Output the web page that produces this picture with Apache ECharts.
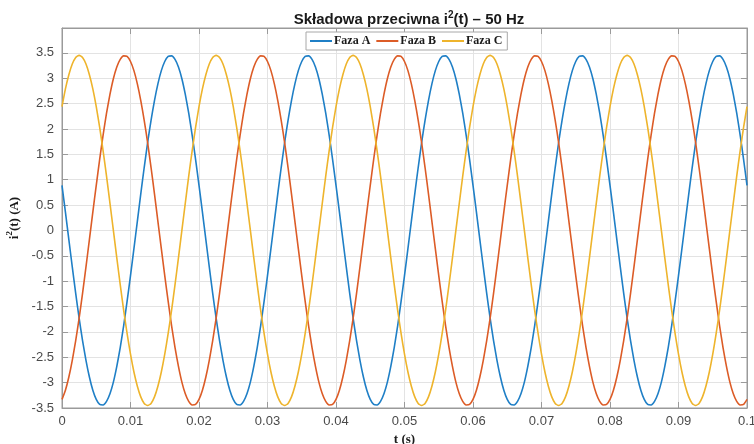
<!DOCTYPE html>
<html>
<head>
<meta charset="utf-8">
<script src="https://cdn.jsdelivr.net/npm/echarts@6/dist/echarts.min.js"></script>
<style>
html,body{margin:0;padding:0;background:#fff;}
#chart{width:754px;height:444px;}
</style>
</head>
<body>
<div id="chart"></div>
<script>
// sampling of the time axis (s)
const tStart = 0;
const tStep = 0.0005;
const xTicks = ['0','0.01','0.02','0.03','0.04','0.05','0.06','0.07','0.08','0.09','0.1'];
const yTicks = ['-3.5','-3','-2.5','-2','-1.5','-1','-0.5','0','0.5','1','1.5','2','2.5','3','3.5'];
const seriesNames = ['Faza A', 'Faza B', 'Faza C'];

const fazaA = [
0.89,0.36,-0.18,-0.72,-1.24,-1.73,-2.17,-2.56,-2.89,-3.15,-3.33,-3.43,-3.44,-3.37,-3.22,-2.99,-2.68,-2.31,-1.88,-1.40,-0.89,-0.36,0.18,0.72,1.24,1.73,2.17,2.56,2.89,3.15,3.33,3.43,3.44,3.37,3.22,2.99,2.68,2.31,1.88,1.40,
0.89,0.36,-0.18,-0.72,-1.24,-1.73,-2.17,-2.56,-2.89,-3.15,-3.33,-3.43,-3.44,-3.37,-3.22,-2.99,-2.68,-2.31,-1.88,-1.40,-0.89,-0.36,0.18,0.72,1.24,1.73,2.17,2.56,2.89,3.15,3.33,3.43,3.44,3.37,3.22,2.99,2.68,2.31,1.88,1.40,
0.89,0.36,-0.18,-0.72,-1.24,-1.73,-2.17,-2.56,-2.89,-3.15,-3.33,-3.43,-3.44,-3.37,-3.22,-2.99,-2.68,-2.31,-1.88,-1.40,-0.89,-0.36,0.18,0.72,1.24,1.73,2.17,2.56,2.89,3.15,3.33,3.43,3.44,3.37,3.22,2.99,2.68,2.31,1.88,1.40,
0.89,0.36,-0.18,-0.72,-1.24,-1.73,-2.17,-2.56,-2.89,-3.15,-3.33,-3.43,-3.44,-3.37,-3.22,-2.99,-2.68,-2.31,-1.88,-1.40,-0.89,-0.36,0.18,0.72,1.24,1.73,2.17,2.56,2.89,3.15,3.33,3.43,3.44,3.37,3.22,2.99,2.68,2.31,1.88,1.40,
0.89,0.36,-0.18,-0.72,-1.24,-1.73,-2.17,-2.56,-2.89,-3.15,-3.33,-3.43,-3.44,-3.37,-3.22,-2.99,-2.68,-2.31,-1.88,-1.40,-0.89,-0.36,0.18,0.72,1.24,1.73,2.17,2.56,2.89,3.15,3.33,3.43,3.44,3.37,3.22,2.99,2.68,2.31,1.88,1.40,
0.89];

const fazaB = [
-3.33,-3.15,-2.89,-2.56,-2.17,-1.73,-1.24,-0.72,-0.18,0.36,0.89,1.40,1.88,2.31,2.68,2.99,3.22,3.37,3.44,3.43,3.33,3.15,2.89,2.56,2.17,1.73,1.24,0.72,0.18,-0.36,-0.89,-1.40,-1.88,-2.31,-2.68,-2.99,-3.22,-3.37,-3.44,-3.43,
-3.33,-3.15,-2.89,-2.56,-2.17,-1.73,-1.24,-0.72,-0.18,0.36,0.89,1.40,1.88,2.31,2.68,2.99,3.22,3.37,3.44,3.43,3.33,3.15,2.89,2.56,2.17,1.73,1.24,0.72,0.18,-0.36,-0.89,-1.40,-1.88,-2.31,-2.68,-2.99,-3.22,-3.37,-3.44,-3.43,
-3.33,-3.15,-2.89,-2.56,-2.17,-1.73,-1.24,-0.72,-0.18,0.36,0.89,1.40,1.88,2.31,2.68,2.99,3.22,3.37,3.44,3.43,3.33,3.15,2.89,2.56,2.17,1.73,1.24,0.72,0.18,-0.36,-0.89,-1.40,-1.88,-2.31,-2.68,-2.99,-3.22,-3.37,-3.44,-3.43,
-3.33,-3.15,-2.89,-2.56,-2.17,-1.73,-1.24,-0.72,-0.18,0.36,0.89,1.40,1.88,2.31,2.68,2.99,3.22,3.37,3.44,3.43,3.33,3.15,2.89,2.56,2.17,1.73,1.24,0.72,0.18,-0.36,-0.89,-1.40,-1.88,-2.31,-2.68,-2.99,-3.22,-3.37,-3.44,-3.43,
-3.33,-3.15,-2.89,-2.56,-2.17,-1.73,-1.24,-0.72,-0.18,0.36,0.89,1.40,1.88,2.31,2.68,2.99,3.22,3.37,3.44,3.43,3.33,3.15,2.89,2.56,2.17,1.73,1.24,0.72,0.18,-0.36,-0.89,-1.40,-1.88,-2.31,-2.68,-2.99,-3.22,-3.37,-3.44,-3.43,
-3.33];

const fazaC = [
2.44,2.79,3.07,3.28,3.41,3.45,3.41,3.28,3.07,2.79,2.44,2.03,1.57,1.07,0.54,0,-0.54,-1.07,-1.57,-2.03,-2.44,-2.79,-3.07,-3.28,-3.41,-3.45,-3.41,-3.28,-3.07,-2.79,-2.44,-2.03,-1.57,-1.07,-0.54,0,0.54,1.07,1.57,2.03,
2.44,2.79,3.07,3.28,3.41,3.45,3.41,3.28,3.07,2.79,2.44,2.03,1.57,1.07,0.54,0,-0.54,-1.07,-1.57,-2.03,-2.44,-2.79,-3.07,-3.28,-3.41,-3.45,-3.41,-3.28,-3.07,-2.79,-2.44,-2.03,-1.57,-1.07,-0.54,0,0.54,1.07,1.57,2.03,
2.44,2.79,3.07,3.28,3.41,3.45,3.41,3.28,3.07,2.79,2.44,2.03,1.57,1.07,0.54,0,-0.54,-1.07,-1.57,-2.03,-2.44,-2.79,-3.07,-3.28,-3.41,-3.45,-3.41,-3.28,-3.07,-2.79,-2.44,-2.03,-1.57,-1.07,-0.54,0,0.54,1.07,1.57,2.03,
2.44,2.79,3.07,3.28,3.41,3.45,3.41,3.28,3.07,2.79,2.44,2.03,1.57,1.07,0.54,0,-0.54,-1.07,-1.57,-2.03,-2.44,-2.79,-3.07,-3.28,-3.41,-3.45,-3.41,-3.28,-3.07,-2.79,-2.44,-2.03,-1.57,-1.07,-0.54,0,0.54,1.07,1.57,2.03,
2.44,2.79,3.07,3.28,3.41,3.45,3.41,3.28,3.07,2.79,2.44,2.03,1.57,1.07,0.54,0,-0.54,-1.07,-1.57,-2.03,-2.44,-2.79,-3.07,-3.28,-3.41,-3.45,-3.41,-3.28,-3.07,-2.79,-2.44,-2.03,-1.57,-1.07,-0.54,0,0.54,1.07,1.57,2.03,
2.44];

const colors = ['#1f7fc6', '#dc5c27', '#eeb42c'];
const toPairs = arr => arr.map((v, i) => [+(tStart + i * tStep).toFixed(4), v]);

const chart = echarts.init(document.getElementById('chart'), null, {renderer: 'canvas'});
const sansFont = '"Liberation Sans", Arial, Helvetica, sans-serif';
const serifFont = '"Liberation Serif", "Times New Roman", serif';
const axisColor = '#9a9a9a';
const labelColor = '#4a4a4a';

chart.setOption({
  animation: false,
  backgroundColor: '#ffffff',
  color: colors,
  title: {
    text: '{t|Składowa przeciwna i}{s|2}{t|(t) – 50 Hz}',
    left: 404, textAlign: 'center', top: 2,
    textStyle: {
      rich: {
        t: {fontFamily: sansFont, fontWeight: 'bold', fontSize: 15, color: '#1a1a1a', verticalAlign: 'bottom', lineHeight: 20},
        s: {fontFamily: sansFont, fontWeight: 'bold', fontSize: 10, color: '#1a1a1a', verticalAlign: 'top', lineHeight: 12, padding: [3,0,0,0]}
      }
    }
  },
  legend: {
    data: seriesNames,
    left: 306, top: 32,
    icon: 'rect',
    itemWidth: 22, itemHeight: 2, itemGap: 6,
    padding: [3, 5, 3, 4],
    borderColor: '#a8a8a8', borderWidth: 1,
    backgroundColor: '#ffffff',
    textStyle: {fontFamily: serifFont, fontWeight: 'bold', fontSize: 12, color: '#1a1a1a', padding: [0,0,0,-3]}
  },
  grid: {left: 62, right: 7, top: 28, bottom: 36, outerBoundsMode: 'none', containLabel: false,
    show: true, borderColor: axisColor, borderWidth: 1, backgroundColor: 'transparent'},
  xAxis: [{
    type: 'value', min: 0, max: 0.1, interval: 0.01,
    position: 'bottom',
    name: 't (s)', nameLocation: 'middle', nameGap: 21,
    nameTextStyle: {fontFamily: serifFont, fontWeight: 'bold', fontSize: 13, color: '#1a1a1a'},
    axisLine: {show: true, onZero: false, lineStyle: {color: axisColor}},
    axisTick: {show: true, inside: true, length: 6, lineStyle: {color: axisColor}},
    axisLabel: {fontFamily: sansFont, fontSize: 13, color: labelColor, margin: 7,
      formatter: v => { const s = xTicks.find(x => Math.abs(parseFloat(x) - v) < 1e-9); return s === undefined ? '' : s; }},
    splitLine: {show: true, lineStyle: {color: '#e3e3e3', width: 1}}
  }, {
    type: 'value', min: 0, max: 0.1, interval: 0.01,
    position: 'top',
    axisLine: {show: true, onZero: false, lineStyle: {color: axisColor}},
    axisTick: {show: true, inside: true, length: 6, lineStyle: {color: axisColor}},
    axisLabel: {show: false},
    splitLine: {show: false}
  }],
  yAxis: [{
    type: 'value', min: -3.5, max: 3.99, interval: 0.5,
    position: 'left',
    name: '{t|i}{s|2}{t|(t) (A)}', nameLocation: 'middle', nameGap: 36, nameRotate: 90,
    nameTextStyle: {
      rich: {
        t: {fontFamily: serifFont, fontWeight: 'bold', fontSize: 13, color: '#1a1a1a', verticalAlign: 'bottom', lineHeight: 16},
        s: {fontFamily: serifFont, fontWeight: 'bold', fontSize: 9, color: '#1a1a1a', verticalAlign: 'top', lineHeight: 10}
      }
    },
    axisLine: {show: true, onZero: false, lineStyle: {color: axisColor}},
    axisTick: {show: true, inside: true, length: 6, lineStyle: {color: axisColor}},
    axisLabel: {fontFamily: sansFont, fontSize: 13, color: labelColor, margin: 8, showMaxLabel: false,
      formatter: v => { const s = yTicks.find(y => Math.abs(parseFloat(y) - v) < 1e-9); return s === undefined ? '' : s; }},
    splitLine: {show: true, lineStyle: {color: '#e3e3e3', width: 1}}
  }, {
    type: 'value', min: -3.5, max: 3.99, interval: 0.5,
    position: 'right',
    axisLine: {show: true, onZero: false, lineStyle: {color: axisColor}},
    axisTick: {show: true, inside: true, length: 6, lineStyle: {color: axisColor}},
    axisLabel: {show: false},
    splitLine: {show: false}
  }],
  series: [fazaA, fazaB, fazaC].map((arr, i) => ({
    name: seriesNames[i],
    type: 'line',
    xAxisIndex: 0, yAxisIndex: 0,
    data: toPairs(arr),
    symbol: 'none',
    smooth: 0.2,
    lineStyle: {width: 1.6, color: colors[i]},
    itemStyle: {color: colors[i]}
  }))
});
</script>
</body>
</html>
